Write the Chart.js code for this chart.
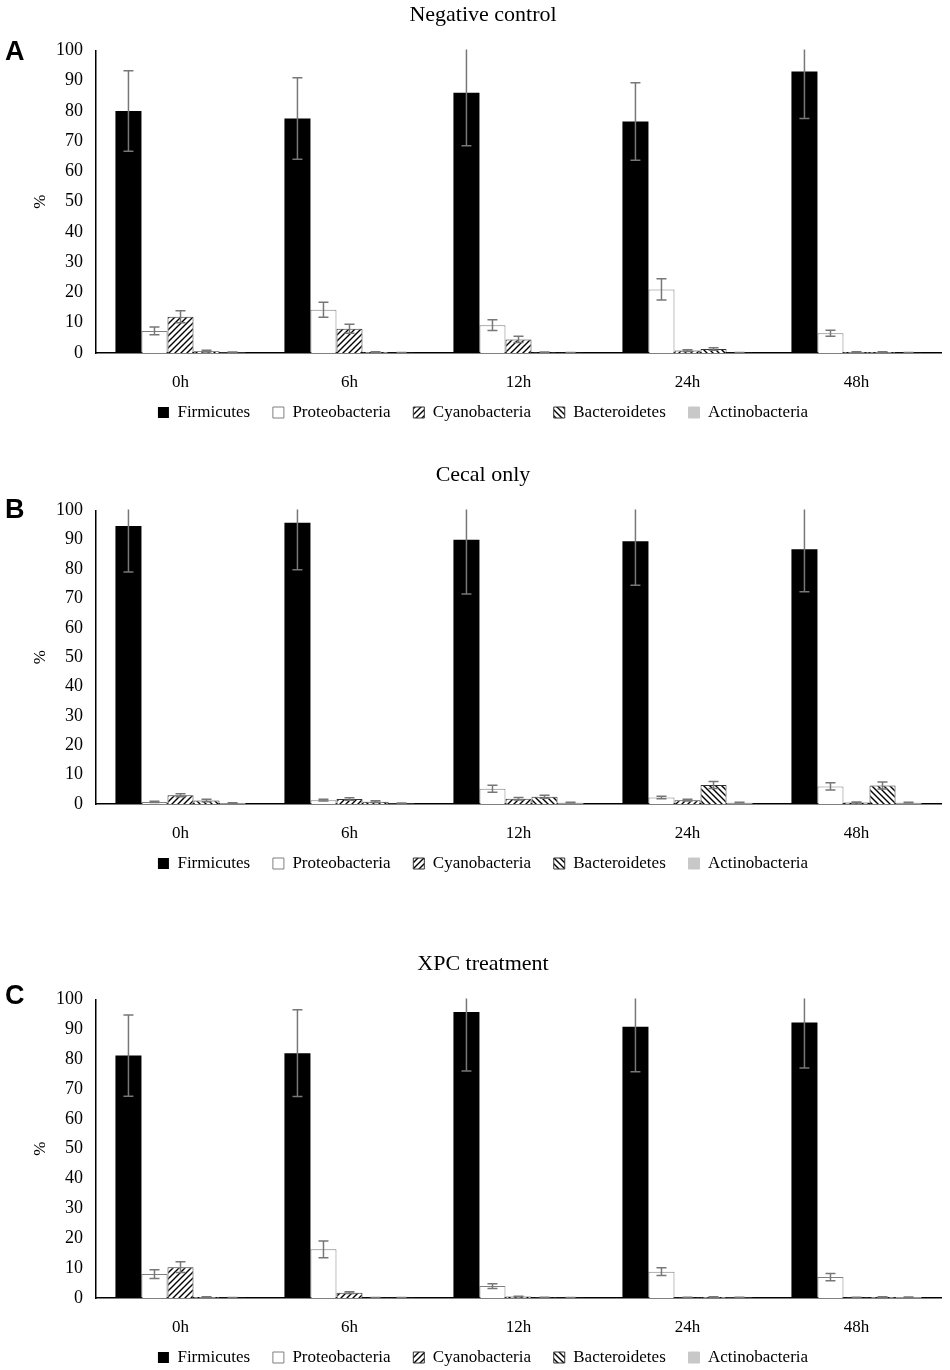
<!DOCTYPE html>
<html>
<head>
<meta charset="utf-8">
<script src="https://cdn.jsdelivr.net/npm/chart.js@4.4.1/dist/chart.umd.min.js"></script>
<style>
  body { margin: 0; background: #fff; width: 950px; height: 1370px; position: relative; overflow: hidden; }
  .panel { position: absolute; left: 0; width: 950px; }
  .letter { position: absolute; left: 5px; font-family: "Liberation Sans", Arial, sans-serif; font-weight: bold; font-size: 27px; color: #000; }
</style>
</head>
<body>
<div class="panel" style="top:0px;height:431px"><canvas id="chartA"></canvas></div>
<div class="panel" style="top:460px;height:422px"><canvas id="chartB"></canvas></div>
<div class="panel" style="top:949px;height:427px"><canvas id="chartC"></canvas></div>
<div class="letter" style="top:36px">A</div>
<div class="letter" style="top:494px">B</div>
<div class="letter" style="top:980px">C</div>
<script>
// categories and series
var categories = ["0h", "6h", "12h", "24h", "48h"];
var seriesNames = ["Firmicutes", "Proteobacteria", "Cyanobacteria", "Bacteroidetes", "Actinobacteria"];
var yTicks = [0, 10, 20, 30, 40, 50, 60, 70, 80, 90, 100];

// A - Negative control (one row per series)
var negValues = [
    [80, 77.5, 86, 76.5, 93],
    [7.3, 14.3, 9.2, 21, 6.5],
    [12, 8, 4.5, 0.8, 0.3],
    [0.6, 0.3, 0.2, 1.3, 0.3],
    [0.2, 0.1, 0.1, 0.1, 0.1]
];
var negErrors = [
    [13.3, 13.5, 17.5, 12.8, 15.5],
    [1.3, 2.5, 1.8, 3.5, 1.0],
    [2.0, 1.5, 1.0, 0.3, 0.1],
    [0.3, 0.1, 0.1, 0.4, 0.1],
    [0.1, 0.05, 0.05, 0.05, 0.05]
];

// B - Cecal only
var cecalValues = [
    [94.7, 95.8, 90, 89.5, 86.8],
    [0.7, 1.3, 5.2, 2.2, 6],
    [3, 1.7, 1.8, 1.3, 0.5],
    [1.2, 0.8, 2.5, 6.5, 6.3],
    [0.3, 0.2, 0.5, 0.5, 0.5]
];
var cecalErrors = [
    [15.7, 16, 18.5, 15, 14.5],
    [0.2, 0.3, 1.2, 0.4, 1.2],
    [0.5, 0.4, 0.4, 0.3, 0.2],
    [0.4, 0.3, 0.5, 1.2, 1.2],
    [0.1, 0.1, 0.1, 0.1, 0.1]
];

// C - XPC treatment
var xpcValues = [
    [81.2, 82, 95.8, 90.8, 92.3],
    [8, 16.3, 4, 8.8, 7],
    [10.3, 1.8, 0.5, 0.2, 0.2],
    [0.3, 0.1, 0.2, 0.3, 0.3],
    [0.1, 0.1, 0.1, 0.2, 0.3]
];
var xpcErrors = [
    [13.6, 14.5, 19.8, 15, 15.3],
    [1.5, 2.8, 0.8, 1.3, 1.2],
    [1.8, 0.3, 0.1, 0.05, 0.05],
    [0.1, 0.05, 0.05, 0.1, 0.1],
    [0.05, 0.05, 0.05, 0.05, 0.05]
];

function makeHatch(forward) {
    var c = document.createElement('canvas');
    c.width = 6; c.height = 6;
    var g = c.getContext('2d');
    g.fillStyle = '#fff';
    g.fillRect(0, 0, 6, 6);
    g.strokeStyle = '#000';
    g.lineWidth = 1.4;
    g.beginPath();
    if (forward) {
        g.moveTo(-1, 7); g.lineTo(7, -1);
        g.moveTo(-4, 4); g.lineTo(4, -4);
        g.moveTo(2, 10); g.lineTo(10, 2);
    } else {
        g.moveTo(-1, -1); g.lineTo(7, 7);
        g.moveTo(-4, 2); g.lineTo(4, 10);
        g.moveTo(2, -4); g.lineTo(10, 4);
    }
    g.stroke();
    return g.createPattern(c, 'repeat');
}

var fills = ['#000000', '#ffffff', makeHatch(true), makeHatch(false), '#c8c8c8'];
var borders = ['#000000', '#7f7f7f', '#333333', '#333333', '#c8c8c8'];

var errorBars = {
    id: 'errorBars',
    afterDatasetsDraw: function (chart) {
        var ctx = chart.ctx;
        var area = chart.chartArea;
        var yScale = chart.scales.y;
        var errs = chart.options.plugins.errorBars.errors;
        ctx.save();
        ctx.beginPath();
        ctx.rect(area.left, area.top - 1, area.right - area.left, area.bottom - area.top + 1);
        ctx.clip();
        ctx.strokeStyle = '#777777';
        ctx.lineWidth = 1.5;
        chart.data.datasets.forEach(function (ds, i) {
            var meta = chart.getDatasetMeta(i);
            meta.data.forEach(function (bar, j) {
                var v = ds.data[j];
                var e = errs[i][j];
                var yHi = yScale.getPixelForValue(v + e);
                var yLo = yScale.getPixelForValue(Math.max(0, v - e));
                ctx.beginPath();
                ctx.moveTo(bar.x, yHi); ctx.lineTo(bar.x, yLo);
                ctx.moveTo(bar.x - 5, yHi); ctx.lineTo(bar.x + 5, yHi);
                ctx.moveTo(bar.x - 5, yLo); ctx.lineTo(bar.x + 5, yLo);
                ctx.stroke();
            });
        });
        ctx.restore();
    }
};

// default legend items, with a little extra room after each name
function legendItems(chart) {
    var items = Chart.defaults.plugins.legend.labels.generateLabels(chart);
    items.forEach(function (it, k) {
        if (k < items.length - 1) it.text = it.text + '   ';
    });
    return items;
}

function drawPanel(id, title, values, errors) {
    var datasets = [];
    for (var i = 0; i < seriesNames.length; i++) {
        datasets.push({
            label: seriesNames[i],
            data: values[i],
            backgroundColor: fills[i],
            borderColor: borders[i],
            borderWidth: i == 0 ? 0 : 1,
            categoryPercentage: 0.77,
            barPercentage: 1.0
        });
    }
    var serif = "'Liberation Serif', 'Times New Roman', serif";
    return new Chart(document.getElementById(id).getContext('2d'), {
        type: 'bar',
        data: { labels: categories, datasets: datasets },
        plugins: [errorBars],
        options: {
            responsive: true,
            maintainAspectRatio: false,
            animation: false,
            layout: { padding: { left: 25, right: 9, top: 0, bottom: 0 } },
            plugins: {
                errorBars: { errors: errors },
                tooltip: { enabled: false },
                title: {
                    display: true,
                    text: title,
                    color: '#000',
                    font: { family: serif, size: 22, weight: 'normal' },
                    padding: { top: 2, bottom: 22 }
                },
                legend: {
                    position: 'bottom',
                    labels: {
                        color: '#000',
                        font: { family: serif, size: 17 },
                        boxWidth: 11,
                        boxHeight: 11,
                        padding: 10,
                        generateLabels: legendItems
                    }
                }
            },
            scales: {
                x: {
                    grid: { display: false, drawTicks: false },
                    border: { display: true, color: '#000', width: 1.5 },
                    ticks: { color: '#000', font: { family: serif, size: 17 }, padding: 19 },
                    afterFit: function (s) { s.height = 41; }
                },
                y: {
                    min: 0,
                    max: 100,
                    grid: { display: false, drawTicks: false },
                    border: { display: true, color: '#000', width: 1.5 },
                    afterBuildTicks: function (s) { s.ticks = yTicks.map(function (v) { return { value: v }; }); },
                    ticks: { color: '#000', font: { family: serif, size: 18 }, padding: 13 },
                    title: {
                        display: true,
                        text: '%',
                        color: '#000',
                        font: { family: serif, size: 17 },
                        padding: { top: 5, bottom: 0 }
                    },
                    afterFit: function (s) { s.width = 71; }
                }
            }
        }
    });
}

drawPanel('chartA', 'Negative control', negValues, negErrors);
drawPanel('chartB', 'Cecal only', cecalValues, cecalErrors);
drawPanel('chartC', 'XPC treatment', xpcValues, xpcErrors);
</script>
</body>
</html>
